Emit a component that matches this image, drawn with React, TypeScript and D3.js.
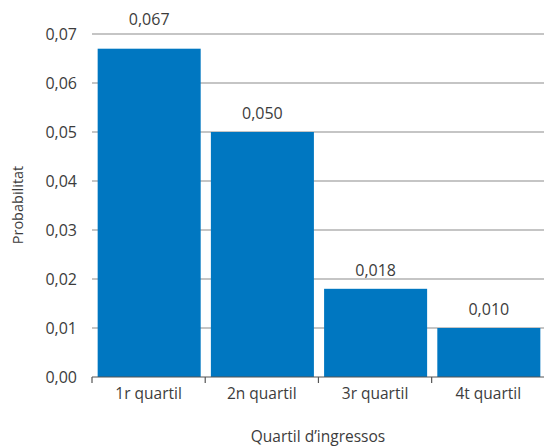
import React from "react";
import * as d3 from "d3";

const categories = ["1r quartil", "2n quartil", "3r quartil", "4t quartil"];
const values = [0.067, 0.05, 0.018, 0.01];
const valueLabels = ["0,067", "0,050", "0,018", "0,010"];
const yTicks = [0, 0.01, 0.02, 0.03, 0.04, 0.05, 0.06, 0.07];

const W = 544;
const H = 447;
const margin = { left: 92, right: 0, top: 34, bottom: 70 };

export default function App() {
  const x = d3
    .scaleBand<string>()
    .domain(categories)
    .range([margin.left, 546])
    .paddingInner(0.09)
    .paddingOuter(0.05);
  const y = d3.scaleLinear().domain([0, 0.07]).range([377, 34]);
  const fmt = (v: number) => v.toFixed(2).replace(".", ",");
  const font = "'Open Sans', sans-serif";
  const step = x.step();
  const bandStart = (i: number) => margin.left + i * step;
  const txt = "#3c3c3c";
  const labelY = (v: number) => {
    const top = y(v) - 13;
    return top < y(0.07) + 6 ? 25 : top;
  };

  return (
    <svg
      width={W}
      height={H}
      style={{ position: "absolute", left: 0, top: 0, background: "#fff" }}
      fontFamily={font}
    >
      {yTicks.slice(1).map((t) => (
        <line key={t} x1={margin.left} x2={W} y1={y(t)} y2={y(t)} stroke="#8c8c8c" strokeWidth={1.2} />
      ))}
      {yTicks.map((t) => (
        <text
          key={"l" + t}
          x={77}
          y={y(t)}
          dy="0.35em"
          textAnchor="end"
          fontSize={16}
          fill={txt}
        >
          {fmt(t)}
        </text>
      ))}
      {categories.map((c, i) => (
        <g key={c}>
          <rect
            x={x(c)}
            y={y(values[i])}
            width={x.bandwidth()}
            height={y(0) - y(values[i])}
            fill="#0077c1"
          />
          <text
            x={(x(c) as number) + x.bandwidth() / 2}
            y={labelY(values[i])}
            textAnchor="middle"
            fontSize={16}
            fill={txt}
          >
            {valueLabels[i]}
          </text>
          <text
            x={bandStart(i) + step / 2}
            y={394}
            dy="0.35em"
            textAnchor="middle"
            fontSize={15.5}
            fill={txt}
          >
            {c}
          </text>
        </g>
      ))}
      <line x1={margin.left} x2={W} y1={377} y2={377} stroke="#555" strokeWidth={1.2} />
      {d3.range(categories.length + 1).map((i) => (
        <line
          key={"t" + i}
          x1={bandStart(i)}
          x2={bandStart(i)}
          y1={377}
          y2={383}
          stroke="#555"
          strokeWidth={1.2}
        />
      ))}
      <text x={318} y={437} dy="0.35em" textAnchor="middle" fontSize={15.5} fill={txt}>
        Quartil d’ingressos
      </text>
      <text
        transform={`translate(18,205) rotate(-90)`}
        dy="0.35em"
        textAnchor="middle"
        fontSize={14.5}
        fill={txt}
      >
        Probabilitat
      </text>
    </svg>
  );
}
